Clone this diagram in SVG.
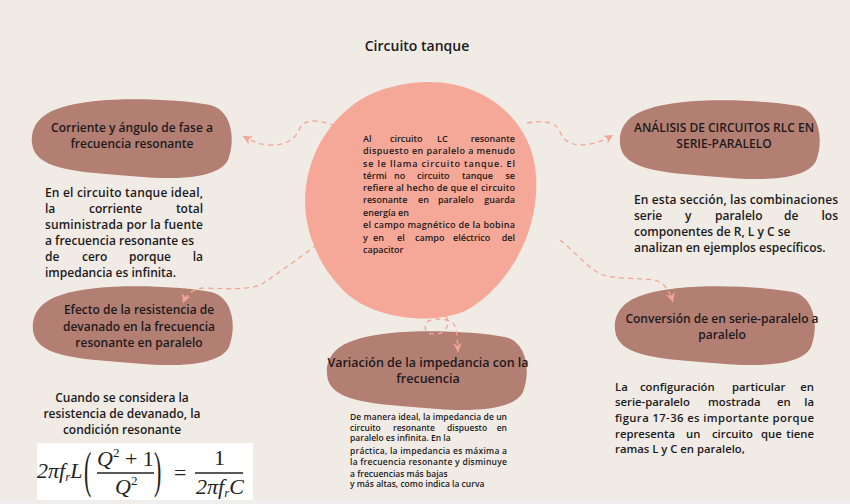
<svg xmlns="http://www.w3.org/2000/svg" width="850" height="504" viewBox="0 0 850 504">
<style>
text{font-family:"Open Sans","Noto Sans","Liberation Sans",sans-serif;font-weight:600;fill:#1c1a1c}
.t{font-size:12px;text-anchor:middle}
.p{font-size:12px}
.q{font-size:11.3px}
.c{font-size:9px}
.s{font-size:8.5px}
.e{text-anchor:end}
.blob{fill:#b47f73}
.con{fill:none;stroke:#f3a594;stroke-width:1.3;stroke-dasharray:5 4;marker-end:url(#ah)}
.m{font-family:"Liberation Serif","Times New Roman",serif;font-weight:400;fill:#222;font-size:22px}
.i{font-style:italic}
</style>
<defs>
<marker id="ah" viewBox="0 0 10 10" refX="10" refY="5" markerWidth="10" markerHeight="9" markerUnits="userSpaceOnUse" orient="auto">
<path d="M0,0 L10,5 L0,10 L3,5 z" fill="#f3a594"/>
</marker>
<path id="bl" d="M28,8 C63,-4 138,-2 178,5 C200,10 204,40 196,60 C186,80 138,80 98,76 C48,72 8,70 1,48 C-4,28 8,14 28,8 Z"/>
</defs>
<rect width="850" height="504" fill="#f0ebe5"/>
<rect y="500" width="850" height="4" fill="#efeeed"/>

<text x="417" y="51" style="font-size:14px;text-anchor:middle">Circuito tanque</text>

<g id="center">
<path d="M425,82 C482,80 532,118 536,175 C540,235 505,290 465,311 C430,326 372,318 345,292 C315,263 301,222 306,186 C311,150 330,120 360,100 C380,88 402,83 425,82 Z" fill="#f5a897"/>
<text class="c" x="363" y="142.3">Al</text><text class="c" x="390" y="142.3">circuito</text><text class="c" x="437" y="142.3">LC</text><text class="c e" x="515" y="142.3">resonante</text>
<text class="c" x="363" y="154.3" textLength="152" lengthAdjust="spacing">dispuesto en paralelo a menudo</text>
<text class="c" x="363" y="166.5" textLength="152" lengthAdjust="spacing">se le llama circuito tanque. El</text>
<text class="c" x="363" y="179"><tspan>térmi</tspan><tspan x="394">no</tspan><tspan x="417">circuito</tspan><tspan x="462">tanque</tspan></text><text class="c e" x="515" y="179">se</text>
<text class="c" x="363" y="191.2" textLength="152" lengthAdjust="spacing">refiere al hecho de que el circuito</text>
<text class="c" x="363" y="203.4"><tspan>resonante</tspan><tspan x="418">en</tspan><tspan x="438">paralelo</tspan></text><text class="c e" x="515" y="203.4">guarda</text>
<text class="c" x="363" y="215.7">energía en</text>
<text class="c" x="363" y="228.2" textLength="152" lengthAdjust="spacing">el campo magnético de la bobina</text>
<text class="c" x="363" y="240.6"><tspan>y</tspan><tspan x="373">en</tspan><tspan x="397">el</tspan><tspan x="415">campo</tspan><tspan x="453">eléctrico</tspan></text><text class="c e" x="515" y="240.6">del</text>
<text class="c" x="363" y="252.8">capacitor</text>
</g>

<g id="n1">
<use href="#bl" class="blob" transform="translate(32,100)"/>
<text class="t" x="132" y="131.5">Corriente y ángulo de fase a</text>
<text class="t" x="132" y="147.5">frecuencia resonante</text>
</g>
<g id="p1">
<text class="p" x="45" y="196.7" textLength="158" lengthAdjust="spacing">En el circuito tanque ideal,</text>
<text class="p" x="45" y="212.7"><tspan>la</tspan><tspan x="89">corriente</tspan></text><text class="p e" x="203" y="212.7">total</text>
<text class="p" x="45" y="229.3" textLength="158" lengthAdjust="spacing">suministrada por la fuente</text>
<text class="p" x="45" y="245.3">a frecuencia resonante es</text>
<text class="p" x="45" y="261.3"><tspan>de</tspan><tspan x="82">cero</tspan><tspan x="129">porque</tspan></text><text class="p e" x="203" y="261.3">la</text>
<text class="p" x="45" y="277.3">impedancia es infinita.</text>
</g>

<g id="n2">
<use href="#bl" class="blob" transform="translate(620,101)"/>
<text class="t" x="724" y="132">ANÁLISIS DE CIRCUITOS RLC EN</text>
<text class="t" x="724" y="148">SERIE-PARALELO</text>
</g>
<g id="p2">
<text class="p" x="634" y="204" textLength="204" lengthAdjust="spacing">En esta sección, las combinaciones</text>
<text class="p" x="634" y="220"><tspan>serie</tspan><tspan x="685">y</tspan><tspan x="715">paralelo</tspan><tspan x="784">de</tspan></text><text class="p e" x="838" y="220">los</text>
<text class="p" x="634" y="236">componentes de R, L y C se</text>
<text class="p" x="634" y="251.7">analizan en ejemplos específicos.</text>
</g>

<g id="n3">
<use href="#bl" class="blob" transform="translate(33,287)"/>
<text class="t" x="139" y="314">Efecto de la resistencia de</text>
<text class="t" x="139" y="331">devanado en la frecuencia</text>
<text class="t" x="139" y="347">resonante en paralelo</text>
</g>
<g id="p3">
<text class="t" x="122" y="402">Cuando se considera la</text>
<text class="t" x="122" y="418">resistencia de devanado, la</text>
<text class="t" x="122" y="434">condición resonante</text>
<rect x="37" y="443" width="216" height="57" fill="#ffffff"/>
<text class="m i" x="37" y="478">2πf<tspan font-size="13" dy="3">r</tspan><tspan dy="-3">L</tspan></text>
<text class="m" transform="translate(84,487) scale(1,2.3)" font-size="24">(</text>
<text class="m" x="97" y="466"><tspan class="i">Q</tspan><tspan font-size="13" dy="-9">2</tspan><tspan dy="9"> + 1</tspan></text>
<line x1="97" y1="473" x2="154" y2="473" stroke="#222" stroke-width="1.3"/>
<text class="m" x="115" y="494"><tspan class="i">Q</tspan><tspan font-size="13" dy="-9">2</tspan></text>
<text class="m" transform="translate(154,487) scale(1,2.3)" font-size="24">)</text>
<text class="m" x="174" y="480">=</text>
<text class="m" x="214" y="465">1</text>
<line x1="195" y1="473" x2="243" y2="473" stroke="#222" stroke-width="1.3"/>
<text class="m i" x="196" y="494">2πf<tspan font-size="13" dy="3">r</tspan><tspan dy="-3">C</tspan></text>
</g>

<g id="n4">
<use href="#bl" class="blob" transform="translate(327,332)"/>
<text class="t" x="428" y="367" style="font-size:12.5px">Variación de la impedancia con la</text>
<text class="t" x="428" y="383" style="font-size:12.5px">frecuencia</text>
</g>
<g id="p4">
<text class="s" x="350" y="420" textLength="157" lengthAdjust="spacing">De manera ideal, la impedancia de un</text>
<text class="s" x="350" y="430.7"><tspan>circuito</tspan><tspan x="393">resonante</tspan><tspan x="447">dispuesto</tspan></text><text class="s e" x="507" y="430.7">en</text>
<text class="s" x="350" y="440.7">paralelo es infinita. En la</text>
<text class="s" x="350" y="454" textLength="157" lengthAdjust="spacing">práctica, la impedancia es máxima a</text>
<text class="s" x="350" y="465" textLength="157" lengthAdjust="spacing">la frecuencia resonante y disminuye</text>
<text class="s" x="350" y="476.7">a frecuencias más bajas</text>
<text class="s" x="350" y="487.3">y más altas, como indica la curva</text>
</g>

<g id="n5">
<use href="#bl" class="blob" transform="translate(615,287)"/>
<text class="t" x="722" y="323">Conversión de en serie-paralelo a</text>
<text class="t" x="722" y="339">paralelo</text>
</g>
<g id="p5">
<text class="q" x="615" y="390.7"><tspan>La</tspan><tspan x="640">configuración</tspan><tspan x="732">particular</tspan></text><text class="q e" x="814" y="390.7">en</text>
<text class="q" x="615" y="406"><tspan>serie-paralelo</tspan><tspan x="708">mostrada</tspan><tspan x="777">en</tspan></text><text class="q e" x="814" y="406">la</text>
<text class="q" x="615" y="421.7" textLength="199" lengthAdjust="spacing">figura 17-36 es importante porque</text>
<text class="q" x="615" y="437.7"><tspan>representa</tspan><tspan x="686">un</tspan><tspan x="712">circuito</tspan><tspan x="761">que</tspan></text><text class="q e" x="814" y="437.7">tiene</text>
<text class="q" x="615" y="453.3">ramas L y C en paralelo,</text>
</g>

<g id="connectors">
<path class="con" d="M335,126 C320,120 305,118 300,128 C295,140 285,146 268,145 C258,144 250,140 243,136"/>
<path class="con" d="M527,123 C545,120 556,122 560,132 C565,145 578,147 595,143 C602,141 608,138 613,135"/>
<path class="con" d="M317,245 C300,257 280,272 262,284 C250,290 230,289 205,288 C195,288 187,293 183,303"/>
<path class="con" d="M560,240 C575,252 590,270 603,275 C615,279 640,278 655,280 C665,283 670,292 673,302"/>
<path class="con" d="M446,316 C450,322 448,332 437,334 C425,335 423,328 427,322 C431,318 445,318 452,322 C457,326 457,335 458,352"/>
</g>
</svg>
